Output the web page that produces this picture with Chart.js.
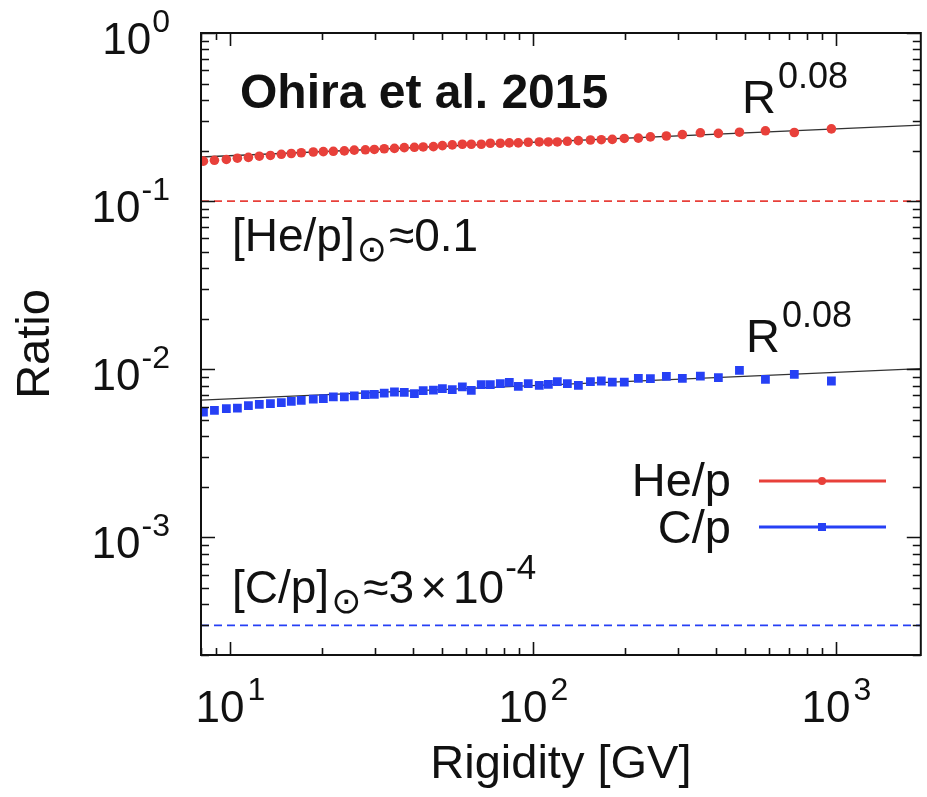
<!DOCTYPE html>
<html lang="en">
<head>
    <meta charset="UTF-8">
    <title>He/p and C/p ratio vs rigidity</title>
    <script src="https://cdn.jsdelivr.net/npm/chart.js"></script>
    <style>
        body { margin: 0; background: #fff; }
    </style>
</head>
<body>
    <canvas id="ratio-chart" width="927" height="797"></canvas>

    <script>
        // rigidity bins [GV]
        const rigidity = [8.15, 8.86, 9.70, 10.55, 11.47, 12.46, 13.56, 14.73, 15.89, 17.14,
            18.78, 20.27, 21.87, 23.78, 25.64, 27.90, 29.87, 32.2, 34.8, 37.5,
            40.5, 43.3, 46.8, 50.1, 54.0, 58.3, 62.4, 67.3, 72.1, 77.8,
            83.3, 89.2, 96.2, 104.6, 112.1, 120.0, 129.5, 140.8, 154.3, 167.6,
            182.2, 199.6, 222.1, 243.4, 274.8, 310.3, 355.8, 408.0, 478.8, 583.4,
            726.6, 963.1];
        const heRatio = [0.173, 0.175, 0.177, 0.180, 0.182, 0.185, 0.187, 0.190, 0.192, 0.194,
            0.196, 0.197, 0.198, 0.199, 0.201, 0.202, 0.203, 0.205, 0.206, 0.208,
            0.209, 0.210, 0.211, 0.214, 0.216, 0.218, 0.218, 0.218, 0.221, 0.221,
            0.222, 0.222, 0.224, 0.225, 0.225, 0.225, 0.227, 0.229, 0.231, 0.232,
            0.233, 0.236, 0.237, 0.241, 0.244, 0.249, 0.255, 0.253, 0.257, 0.262,
            0.256, 0.269];
        const cRatio = [0.00557, 0.00570, 0.00583, 0.00588, 0.00608, 0.00619, 0.00625, 0.00634, 0.00645, 0.00654,
            0.00665, 0.00669, 0.00685, 0.00685, 0.00694, 0.00707, 0.00710, 0.00722, 0.00733, 0.00730,
            0.00717, 0.00747, 0.00753, 0.00767, 0.00757, 0.00785, 0.00750, 0.00811, 0.00811, 0.00822,
            0.00837, 0.00792, 0.00822, 0.00803, 0.00814, 0.00845, 0.00822, 0.00803, 0.00845, 0.00852,
            0.00840, 0.00840, 0.00884, 0.00881, 0.00908, 0.00884, 0.00912, 0.00893, 0.00986, 0.00872,
            0.00934, 0.00852];

        // R^0.08 fit lines (end points) and solar abundances
        const fitR = [8, 1900];
        const heFit = [0.183, 0.283];
        const cFit = [0.00655, 0.0101];
        const heSolar = 0.1;
        const cSolar = 3e-4;

        const xRange = [8, 1900];
        const yRange = [2e-4, 1];
        const xTickExp = [1, 2, 3];
        const yTickExp = [0, -1, -2, -3];

        const RED = 'rgb(232, 64, 58)';
        const BLUE = 'rgb(38, 64, 245)';
        const FONT = '"Liberation Sans", Arial, Helvetica, sans-serif';

        function pts(xs, ys) {
            return xs.map((x, i) => ({ x: x, y: ys[i] }));
        }

        // draws a run of text pieces, each with its own size and raise
        function richText(ctx, parts, x, y, align) {
            let total = 0;
            parts.forEach(p => {
                ctx.font = (p.bold ? 'bold ' : '') + p.size + 'px ' + (p.family || FONT);
                p.w = ctx.measureText(p.t).width;
                total += p.w + (p.gap || 0);
            });
            let cx = x;
            if (align === 'center') cx = x - total / 2;
            if (align === 'right') cx = x - total;
            parts.forEach(p => {
                ctx.font = (p.bold ? 'bold ' : '') + p.size + 'px ' + (p.family || FONT);
                ctx.fillText(p.t, cx, y - (p.raise || 0));
                cx += p.w + (p.gap || 0);
            });
        }

        function logTicks(min, max) {
            const out = [];
            for (let e = Math.floor(Math.log10(min)); e <= Math.ceil(Math.log10(max)); e++) {
                for (let m = 1; m <= 9; m++) {
                    const v = m * Math.pow(10, e);
                    if (v >= min * 0.999 && v <= max * 1.001) out.push({ v: v, major: m === 1 });
                }
            }
            return out;
        }

        const decorations = {
            id: 'decorations',
            afterDatasetsDraw(chart) {
                const ctx = chart.ctx;
                const a = chart.chartArea;
                const xs = chart.scales.x;
                const ys = chart.scales.y;
                ctx.save();

                // frame
                ctx.strokeStyle = '#111';
                ctx.lineWidth = 2;
                ctx.strokeRect(a.left, a.top, a.right - a.left, a.bottom - a.top);

                // inward ticks on all four sides
                ctx.lineWidth = 1.6;
                ctx.beginPath();
                logTicks(xRange[0], xRange[1]).forEach(t => {
                    const px = Math.round(xs.getPixelForValue(t.v)) + 0.5;
                    const len = t.major ? 13 : 7;
                    ctx.moveTo(px, a.bottom); ctx.lineTo(px, a.bottom - len);
                    ctx.moveTo(px, a.top); ctx.lineTo(px, a.top + len);
                });
                logTicks(yRange[0], yRange[1]).forEach(t => {
                    const py = Math.round(ys.getPixelForValue(t.v)) + 0.5;
                    const len = t.major ? 14 : 8;
                    ctx.moveTo(a.left, py); ctx.lineTo(a.left + len, py);
                    ctx.moveTo(a.right, py); ctx.lineTo(a.right - len, py);
                });
                ctx.stroke();

                // tick labels 10^n
                ctx.fillStyle = '#111';
                ctx.textBaseline = 'alphabetic';
                ctx.textAlign = 'left';
                xTickExp.forEach(e => {
                    const px = xs.getPixelForValue(Math.pow(10, e));
                    richText(ctx, [{ t: '10', size: 44, gap: 3 }, { t: String(e), size: 32, raise: 22 }],
                        px, a.bottom + 67, 'center');
                });
                yTickExp.forEach(e => {
                    const py = ys.getPixelForValue(Math.pow(10, e));
                    richText(ctx, [{ t: '10', size: 44, gap: 1 }, { t: String(e), size: 32, raise: 22 }],
                        170, py + 21, 'right');
                });

                // annotations
                richText(ctx, [{ t: 'Ohira et al. 2015', size: 48, bold: true }], 240, 108, 'left');
                richText(ctx, [{ t: 'R', size: 47, gap: 2 }, { t: '0.08', size: 36, raise: 25 }], 742, 113, 'left');
                richText(ctx, [{ t: 'R', size: 47, gap: 2 }, { t: '0.08', size: 36, raise: 25 }], 746, 352, 'left');
                richText(ctx, [
                    { t: '[He/p]', size: 46, gap: 2 },
                    { t: '\u2299', size: 36, raise: -10, family: '"DejaVu Sans", sans-serif', gap: 2 },
                    { t: '\u22480.1', size: 46 }
                ], 232, 251, 'left');
                richText(ctx, [
                    { t: '[C/p]', size: 46, gap: 2 },
                    { t: '\u2299', size: 36, raise: -10, family: '"DejaVu Sans", sans-serif', gap: 2 },
                    { t: '\u22483', size: 46, gap: 6 },
                    { t: '\u00d7', size: 46, gap: 6 },
                    { t: '10', size: 46, gap: 1 },
                    { t: '-4', size: 35, raise: 24 }
                ], 232, 603, 'left');

                // legend
                const legend = [
                    { label: 'He/p', color: RED, y: 481, base: 496, shape: 'circle' },
                    { label: 'C/p', color: BLUE, y: 527, base: 543, shape: 'rect' }
                ];
                legend.forEach(l => {
                    ctx.fillStyle = '#111';
                    richText(ctx, [{ t: l.label, size: 47 }], 731, l.base, 'right');
                    ctx.strokeStyle = l.color;
                    ctx.lineWidth = 3;
                    ctx.beginPath();
                    ctx.moveTo(759, l.y); ctx.lineTo(886, l.y);
                    ctx.stroke();
                    ctx.fillStyle = l.color;
                    if (l.shape === 'circle') {
                        ctx.beginPath(); ctx.arc(822, l.y, 4, 0, Math.PI * 2); ctx.fill();
                    } else {
                        ctx.fillRect(818, l.y - 4, 8, 8);
                    }
                });
                ctx.restore();
            }
        };

        const chart = new Chart(document.getElementById('ratio-chart'), {
            type: 'scatter',
            data: {
                datasets: [
                    {
                        label: 'He/p',
                        data: pts(rigidity, heRatio),
                        backgroundColor: RED,
                        borderColor: RED,
                        pointStyle: 'circle',
                        pointRadius: 4.8,
                        borderWidth: 0
                    },
                    {
                        label: 'C/p',
                        data: pts(rigidity, cRatio),
                        backgroundColor: BLUE,
                        borderColor: BLUE,
                        pointStyle: 'rect',
                        pointRadius: 6.2,
                        borderWidth: 0
                    },
                    {
                        label: 'He fit',
                        data: pts(fitR, heFit),
                        showLine: true,
                        borderColor: '#333',
                        borderWidth: 1.3,
                        pointRadius: 0
                    },
                    {
                        label: 'C fit',
                        data: pts(fitR, cFit),
                        showLine: true,
                        borderColor: '#333',
                        borderWidth: 1.3,
                        pointRadius: 0
                    },
                    {
                        label: 'He solar',
                        data: pts(xRange, [heSolar, heSolar]),
                        showLine: true,
                        borderColor: RED,
                        borderWidth: 1.8,
                        borderDash: [8, 5],
                        pointRadius: 0
                    },
                    {
                        label: 'C solar',
                        data: pts(xRange, [cSolar, cSolar]),
                        showLine: true,
                        borderColor: BLUE,
                        borderWidth: 1.8,
                        borderDash: [8, 5],
                        pointRadius: 0
                    }
                ]
            },
            options: {
                responsive: false,
                animation: false,
                devicePixelRatio: 1,
                layout: { padding: { top: 33, right: 6, left: 0, bottom: 0 } },
                scales: {
                    x: {
                        type: 'logarithmic',
                        min: xRange[0],
                        max: xRange[1],
                        grid: { display: false },
                        border: { display: false },
                        ticks: { display: false },
                        title: {
                            display: true,
                            text: 'Rigidity [GV]',
                            color: '#111',
                            font: { family: FONT, size: 47 },
                            padding: { top: 0, bottom: 4 }
                        },
                        afterFit: s => { s.height = 142; }
                    },
                    y: {
                        type: 'logarithmic',
                        min: yRange[0],
                        max: yRange[1],
                        grid: { display: false },
                        border: { display: false },
                        ticks: { display: false },
                        title: {
                            display: true,
                            text: 'Ratio',
                            color: '#111',
                            font: { family: FONT, size: 47 },
                            padding: { top: 8, bottom: 0 }
                        },
                        afterFit: s => { s.width = 201; }
                    }
                },
                plugins: {
                    legend: { display: false },
                    tooltip: { enabled: false }
                }
            },
            plugins: [decorations]
        });
    </script>
</body>
</html>
